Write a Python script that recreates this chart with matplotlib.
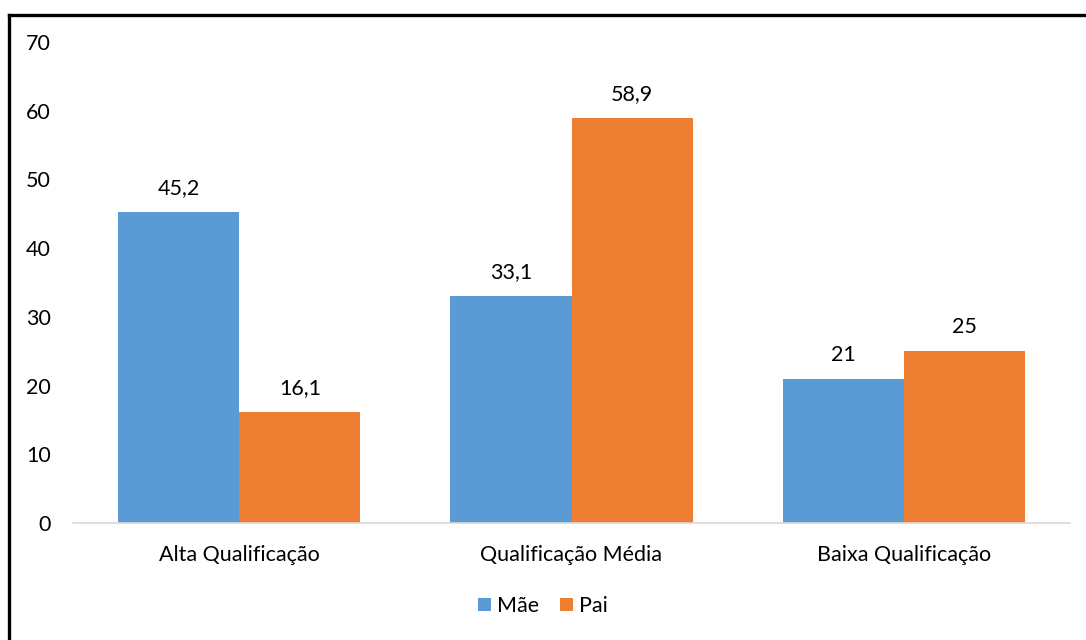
import numpy as np
import matplotlib.pyplot as plt
from matplotlib.lines import Line2D

categories = ["Alta Qualificação", "Qualificação Média", "Baixa Qualificação"]
mae = [45.2, 33.1, 21]
pai = [16.1, 58.9, 25]
value_labels_mae = ["45,2", "33,1", "21"]
value_labels_pai = ["16,1", "58,9", "25"]

plt.rcParams['font.family'] = ['Lato', 'DejaVu Sans']
fs = 15.5

fig = plt.figure(figsize=(10.86, 6.4), dpi=100)
ax = fig.add_axes([73 / 1086, 117 / 640, 997 / 1086, 481 / 640])

x = np.arange(len(categories))
w = 0.365
b1 = ax.bar(x - w / 2, mae, w, color="#5B9BD5", label="Mãe")
b2 = ax.bar(x + w / 2, pai, w, color="#ED7D31", label="Pai")

ax.bar_label(b1, labels=value_labels_mae, padding=10, fontsize=fs, color="#000000")
ax.bar_label(b2, labels=value_labels_pai, padding=10, fontsize=fs, color="#000000")

ax.set_xlim(-0.5, 2.5)
ax.set_ylim(0, 70)
ax.set_yticks(range(0, 71, 10))
ax.set_xticks(x)
ax.set_xticklabels(categories)
ax.tick_params(axis="both", length=0, labelsize=fs, colors="#000000")
ax.tick_params(axis="y", pad=16)
ax.tick_params(axis="x", pad=16)

for s in ["top", "right", "left"]:
    ax.spines[s].set_visible(False)
ax.spines["bottom"].set_color("#D9D9D9")
ax.spines["bottom"].set_linewidth(1.2)

ax.legend(loc="center", bbox_to_anchor=(0.5, 1 - 606 / 640), bbox_transform=fig.transFigure,
          ncol=2, frameon=False, fontsize=fs, handlelength=0.6, handleheight=0.6,
          handletextpad=0.25, columnspacing=1.0)

# frame lines (top and left visible in the reference)
fig.add_artist(Line2D([9 / 1086, 1], [1 - 14.5 / 640, 1 - 14.5 / 640], color="black", lw=2.4,
                      transform=fig.transFigure))
fig.add_artist(Line2D([9 / 1086, 9 / 1086], [0, 1 - 14.5 / 640], color="black", lw=2.4,
                      transform=fig.transFigure))

fig.savefig("out.png", dpi=100)
